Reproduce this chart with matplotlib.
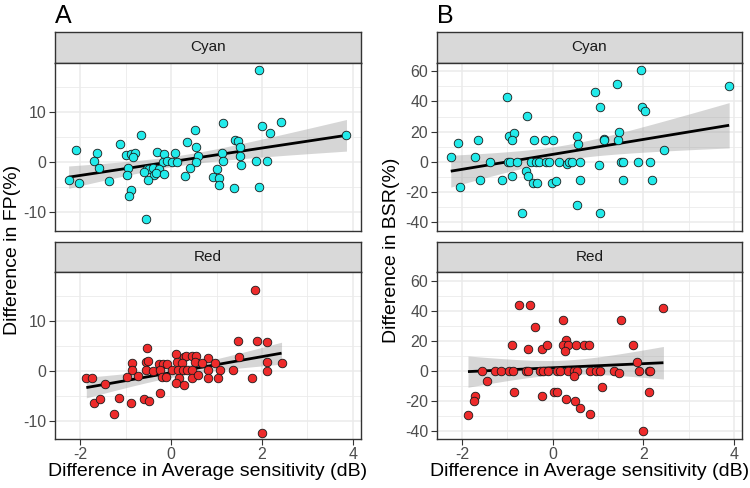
import numpy as np
import matplotlib
matplotlib.use('Agg')
import matplotlib.pyplot as plt

plt.rcParams['font.family'] = ['Liberation Sans', 'DejaVu Sans']

# ---------------- data ----------------
facets = ['Cyan', 'Red']
panel_tags = ['A', 'B']
y_titles = ['Difference in FP(%)', 'Difference in BSR(%)']
x_title = 'Difference in Average sensitivity (dB)'

cyan_fp_x = [1.93, 1.14, 2.42, 2.01, 2.17, 3.86, -0.67, 0.53, 1.41, 1.48, 0.34, 1.51, 0.54,
             -1.13, -2.10, -1.63, -1.00, -0.89, -0.80, -0.84, -0.32, -0.16, 0.08, 0.59, 1.12,
             1.52, -1.71, -0.18, -0.09, 0.01, 0.12, 0.55, 1.13, 1.86, 2.12, -1.60, -0.96, -0.54,
             -0.48, -0.40, -0.28, 0.41, 1.01, 1.54, -0.98, -0.59, -0.37, -0.34, -0.16, 0.30, 0.93,
             1.05, 1.05, -2.26, -2.03, -1.37, -0.51, -0.89, -0.92, 1.39, 1.94, -0.56]
cyan_fp_y = [18.3, 7.8, 7.9, 7.1, 5.8, 5.4, 5.4, 6.4, 4.3, 4.1, 3.9, 3.0, 3.0,
             3.5, 2.3, 1.7, 1.3, 1.5, 1.8, 1.0, 1.9, 1.6, 1.7, 1.2, 1.7,
             1.1, 0.1, 0.0, 0.1, 0.0, -0.1, -0.1, 0.1, 0.2, 0.1, -1.2, -1.3, -1.4,
             -1.5, -1.2, -1.5, -1.3, -1.5, -0.7, -2.7, -2.1, -2.7, -2.2, -2.5, -2.9, -3.1,
             -3.3, -4.6, -3.7, -4.3, -3.9, -3.7, -5.6, -6.9, -5.2, -5.1, -11.5]

red_fp_x = [1.85, 1.99, 1.46, 1.90, 2.10, -0.53, 1.50, 2.12, 2.43, 0.10, 0.28, 0.33, 0.45,
            0.54, 0.81, -0.87, -0.56, -0.51, -0.28, -0.18, -0.10, 0.12, 0.23, 0.52, 0.67, 0.96,
            -0.86, -0.56, -0.40, -0.24, 0.02, 0.15, 0.26, 0.34, 0.45, 0.81, 1.08, 1.35, 2.12,
            -1.87, -1.74, -1.46, -0.97, -0.73, -0.21, -0.12, 0.17, 0.45, 0.58, 0.80, 1.02, 1.77,
            0.10, 0.28, -0.24, -1.71, -1.56, -1.14, -0.89, -0.61, -0.49, -1.27]
red_fp_y = [16.1, -12.5, 5.9, 5.9, 5.7, 4.6, 2.8, 1.8, 1.5, 3.4, 2.7, 2.9, 3.0,
            3.0, 2.6, 1.6, 1.7, 2.0, 1.3, 1.3, 1.4, 1.7, 1.5, 1.7, 1.5, 1.6,
            0.1, 0.1, -0.1, 0.1, 0.1, 0.1, 0.2, 0.1, 0.2, 0.1, 0.2, 0.1, -0.1,
            -1.5, -1.5, -2.6, -1.3, -1.0, -1.3, -1.3, -1.4, -1.4, -0.8, -1.4, -1.4, -1.4,
            -2.4, -2.8, -4.4, -6.5, -5.7, -5.5, -6.4, -5.7, -6.1, -8.7]

cyan_bsr_x = [1.94, 3.89, 1.41, 0.94, -1.00, 1.05, 1.96, 2.03, -0.56, -0.97, -0.85, -0.89,
              -1.64, -2.08, -0.42, -0.18, 0.01, 0.54, 0.55, 1.13, 1.14, 1.43, 1.47, 2.45,
              -2.25, -1.72, -1.38, -0.99, -0.94, -0.80, -0.47, -0.36, -0.31, -0.16, -0.08, 0.13,
              0.31, 0.36, 0.43, 0.61, 1.03, 1.51, 1.54, 1.88, 2.14, -0.59, -0.54, -0.43, -0.34,
              -0.02, 0.08, -1.60, -1.13, -0.89, -2.04, 0.59, 1.54, 2.19, 0.54, -0.67, 1.05]
cyan_bsr_y = [60.7, 50.5, 51.9, 46.4, 43.1, 36.3, 36.3, 33.8, 30.3, 17.1, 19.1, 14.5,
              14.5, 12.3, 14.5, 14.5, 14.5, 17.1, 12.1, 15.2, 14.5, 14.5, 20.0, 7.7,
              3.3, 3.5, 0.0, 0.0, 0.0, 0.0, 0.0, 0.0, 0.0, 0.0, 0.0, 0.0,
              -1.5, 0.0, 0.0, 0.0, -2.0, 0.0, 0.0, 0.0, 0.0, -6.4, -9.7, -13.8, -14.1,
              -14.3, -12.5, -12.3, -12.3, -9.7, -16.9, -12.3, -12.3, -12.3, -28.8, -33.6, -33.6]

red_bsr_x = [-0.74, -0.50, 2.44, 0.22, 1.51, -0.40, 0.29, -0.90, -0.55, -0.24, -0.13, 0.23,
             0.34, 0.26, 0.52, 0.68, 0.80, 1.78, 1.86, -1.55, -1.27, -1.14, -0.97, -0.88,
             -0.60, -0.54, -0.28, -0.22, -0.10, 0.10, 0.16, 0.33, 0.46, 0.54, 0.82, 0.96, 1.04,
             1.35, 1.47, 1.91, 2.13, 2.15, 0.46, -1.46, 1.09, -0.85, 0.02, 0.10, 2.12, -1.71,
             -0.24, -1.74, 0.29, 0.48, 0.59, 0.82, -1.87, 2.00]
red_bsr_y = [43.7, 43.7, 42.0, 33.6, 33.6, 28.8, 20.4, 16.9, 14.3, 14.3, 16.9, 16.9,
             16.9, 13.4, 16.9, 16.9, 16.9, 16.9, 5.7, 0.0, 0.0, 0.0, 0.0, 0.0,
             0.0, 0.0, 0.0, 0.0, 0.0, 0.0, 0.0, 0.0, 0.0, 0.0, 0.0, 0.0, 0.0,
             0.0, -1.3, 0.0, 0.0, 0.0, -3.3, -6.6, -11.0, -14.5, -14.5, -14.5, -14.5, -16.9,
             -16.9, -20.4, -19.1, -20.4, -25.1, -29.0, -29.3, -40.4]

x_ticks = [-2, 0, 2, 4]
fp_ticks = [-10, 0, 10]
bsr_ticks = [-40, -20, 0, 20, 40, 60]

# ---------------- style ----------------
W, H = 750, 488
fill_cols = {'Cyan': '#22EAEA', 'Red': '#EE2B2B'}
dark = '#333333'
grid_col = '#EBEBEB'

xlim = (-2.56, 4.18)
ylims = [(-13.7, 19.8), (-45.5, 65.7)]
y_minor = [[-15, -5, 5, 15], [-30, -10, 10, 30, 50]]
x_minor = [-3, -1, 1, 3]

fig = plt.figure(figsize=(W / 100, H / 100), dpi=100)


def fx(px):
    return px / W


def fy(py):
    return 1 - py / H


col_left = [55, 436.7]
col_right = [361, 742.3]
row_strip = [(32.3, 62.7), (241.7, 272)]
row_panel = [(62.7, 230.5), (272, 439)]

data = {
    (0, 'Cyan'): (cyan_fp_x, cyan_fp_y),
    (0, 'Red'): (red_fp_x, red_fp_y),
    (1, 'Cyan'): (cyan_bsr_x, cyan_bsr_y),
    (1, 'Red'): (red_bsr_x, red_bsr_y),
}
yticks_all = [fp_ticks, bsr_ticks]
T975 = 2.0

for c in range(2):
    l, r = col_left[c], col_right[c]
    for ri, fac in enumerate(facets):
        # strip
        s_top, s_bot = row_strip[ri]
        sax = fig.add_axes([fx(l), fy(s_bot), fx(r - l), (s_bot - s_top) / H])
        sax.set_facecolor('#D9D9D9')
        sax.set_xticks([]); sax.set_yticks([])
        for sp in sax.spines.values():
            sp.set_color(dark); sp.set_linewidth(1.0)
        sax.text(0.5, 0.5, fac, ha='center', va='center', fontsize=11,
                 color='#1A1A1A', transform=sax.transAxes)

        p_top, p_bot = row_panel[ri]
        ax = fig.add_axes([fx(l), fy(p_bot), fx(r - l), (p_bot - p_top) / H])
        ax.set_xlim(*xlim)
        ax.set_ylim(*ylims[c])
        for v in x_minor:
            ax.axvline(v, color=grid_col, lw=0.6, zorder=0)
        for v in y_minor[c]:
            ax.axhline(v, color=grid_col, lw=0.6, zorder=0)
        for v in x_ticks:
            ax.axvline(v, color=grid_col, lw=1.1, zorder=0)
        for v in yticks_all[c]:
            ax.axhline(v, color=grid_col, lw=1.1, zorder=0)

        x = np.asarray(data[(c, fac)][0], float)
        y = np.asarray(data[(c, fac)][1], float)
        n = len(x)
        A_ = np.column_stack([np.ones(n), x])
        beta, *_ = np.linalg.lstsq(A_, y, rcond=None)
        resid = y - A_ @ beta
        s2 = resid @ resid / (n - 2)
        xm = x.mean()
        sxx = ((x - xm) ** 2).sum()
        xs = np.linspace(x.min(), x.max(), 80)
        pred = beta[0] + beta[1] * xs
        se = np.sqrt(s2 * (1 / n + (xs - xm) ** 2 / sxx))
        ax.fill_between(xs, pred - T975 * se, pred + T975 * se, color='#999999',
                        alpha=0.4, lw=0, zorder=2)
        ax.plot(xs, pred, color='black', lw=2.0, zorder=3, solid_capstyle='butt')
        ax.scatter(x, y, s=38, c=fill_cols[fac], edgecolors='#1A1A1A',
                   linewidths=0.6, zorder=4)

        ax.set_yticks(yticks_all[c])
        ax.set_yticklabels([str(t) for t in yticks_all[c]])
        ax.set_xticks(x_ticks)
        if ri == 0:
            ax.tick_params(axis='x', bottom=False, labelbottom=False)
        else:
            ax.set_xticklabels([str(t) for t in x_ticks])
        ax.tick_params(length=4, width=0.8, color=dark, labelcolor='#4D4D4D',
                       labelsize=11.5, pad=2)
        for sp in ax.spines.values():
            sp.set_color(dark); sp.set_linewidth(1.0)

    # panel tag, axis titles
    fig.text(fx(l), fy(16), panel_tags[c], fontsize=18, ha='left', va='center',
             color='black')
    fig.text(fx((l + r) / 2), fy(471), x_title, fontsize=14, ha='center',
             va='center', color='black')

fig.text(fx(13), fy(250), y_titles[0], fontsize=14, rotation=90, ha='center',
         va='center', color='black')
fig.text(fx(392), fy(250), y_titles[1], fontsize=14, rotation=90, ha='center',
         va='center', color='black')

fig.savefig('out.png', dpi=100)
